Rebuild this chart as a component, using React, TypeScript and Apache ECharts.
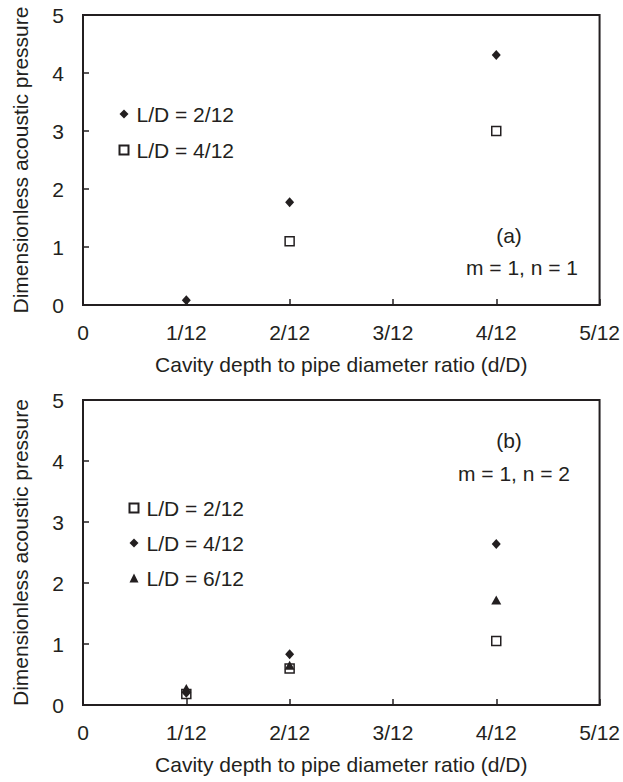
import React, { useEffect, useRef } from "react";
import * as echarts from "echarts";

// x positions in units of 1/12
const xPos = [1, 2, 4];
const xPosA4 = [2, 4];
const xTickLabels = ["0", "1/12", "2/12", "3/12", "4/12", "5/12"];

// Panel (a): m = 1, n = 1
const aLD2 = [0.08, 1.77, 4.31];
const aLD4 = [1.1, 3.0];

// Panel (b): m = 1, n = 2
const bLD2 = [0.18, 0.6, 1.05];
const bLD4 = [0.2, 0.83, 2.64];
const bLD6 = [0.27, 0.65, 1.72];

const FONT = "'Liberation Sans', Arial, sans-serif";
const INK = "#231f20";
const FS = 21;

const pairs = (xs: number[], ys: number[]) => xs.map((x, i) => [x, ys[i]]);

export default function App() {
  const ref = useRef<HTMLDivElement>(null);
  useEffect(() => {
    document.body.style.margin = "0";
    const chart = echarts.init(ref.current!, null, { renderer: "svg" });
    const xAxisBase = (gridIndex: number) => ({
      type: "value",
      gridIndex,
      min: 0,
      max: 5,
      interval: 1,
      name: "Cavity depth to pipe diameter ratio (d/D)",
      nameLocation: "middle",
      nameGap: 49,
      nameTextStyle: { fontFamily: FONT, fontSize: FS, color: INK },
      axisLine: { show: true, lineStyle: { color: INK, width: 2 } },
      axisTick: { show: true, inside: true, length: 6, lineStyle: { color: INK, width: 1.5 } },
      axisLabel: {
        margin: 17,
        fontFamily: FONT,
        fontSize: FS,
        color: INK,
        formatter: (v: number) => xTickLabels[Math.round(v)],
      },
      splitLine: { show: false },
    });
    const yAxisBase = (gridIndex: number) => ({
      type: "value",
      gridIndex,
      min: 0,
      max: 5,
      interval: 1,
      name: "Dimensionless acoustic pressure",
      nameLocation: "middle",
      nameGap: 52,
      nameTextStyle: { fontFamily: FONT, fontSize: FS, color: INK },
      axisLine: { show: true, lineStyle: { color: INK, width: 2 } },
      axisTick: { show: true, inside: true, length: 6, lineStyle: { color: INK, width: 1.5 } },
      axisLabel: { margin: 19, fontFamily: FONT, fontSize: FS, color: INK },
      splitLine: { show: false },
    });
    const diamond = { color: INK, opacity: 1 };
    const hollow = { color: "#fff", borderColor: INK, borderWidth: 1.5, opacity: 1 };
    const tri = { color: INK, opacity: 1 };
    const fmt = (n: string) => n.slice(2);
    const txt = (text: string, x: number, y: number) => ({
      type: "text",
      x,
      y,
      style: { text, font: `${FS}px ${FONT}`, fill: INK, align: "center", verticalAlign: "middle" },
    });
    const legendText = { fontFamily: FONT, fontSize: FS, color: INK, padding: [0, 0, 0, 3] };
    chart.setOption({
      animation: false,
      backgroundColor: "#fff",
      grid: [
        { left: 83, top: 15, width: 519, height: 290, show: true, borderColor: INK, borderWidth: 2 },
        { left: 83, top: 400, width: 520, height: 305, show: true, borderColor: INK, borderWidth: 2 },
      ],
      xAxis: [xAxisBase(0), xAxisBase(1)],
      yAxis: [yAxisBase(0), yAxisBase(1)],
      legend: [
        {
          orient: "vertical",
          left: 113.5,
          top: 98.5,
          itemWidth: 9,
          itemHeight: 9,
          itemGap: 15,
          textStyle: legendText,
          formatter: fmt,
          data: ["a:L/D = 2/12", "a:L/D = 4/12"],
        },
        {
          orient: "vertical",
          left: 123.5,
          top: 492.5,
          itemWidth: 9,
          itemHeight: 9,
          itemGap: 14,
          textStyle: legendText,
          formatter: fmt,
          data: ["b:L/D = 2/12", "b:L/D = 4/12", "b:L/D = 6/12"],
        },
      ],
      graphic: [
        txt("(a)", 509, 235),
        txt("m = 1, n = 1", 522, 267),
        txt("(b)", 509, 440),
        txt("m = 1, n = 2", 514, 473),
      ],
      series: [
        {
          name: "a:L/D = 4/12",
          type: "scatter",
          xAxisIndex: 0,
          yAxisIndex: 0,
          symbol: "rect",
          symbolSize: 9,
          itemStyle: hollow,
          data: pairs(xPosA4, aLD4),
        },
        {
          name: "a:L/D = 2/12",
          type: "scatter",
          xAxisIndex: 0,
          yAxisIndex: 0,
          symbol: "diamond",
          symbolSize: [9, 10],
          itemStyle: diamond,
          data: pairs(xPos, aLD2),
        },
        {
          name: "b:L/D = 2/12",
          type: "scatter",
          xAxisIndex: 1,
          yAxisIndex: 1,
          symbol: "rect",
          symbolSize: 9,
          itemStyle: hollow,
          data: pairs(xPos, bLD2),
        },
        {
          name: "b:L/D = 6/12",
          type: "scatter",
          xAxisIndex: 1,
          yAxisIndex: 1,
          symbol: "triangle",
          symbolSize: [10, 9],
          itemStyle: tri,
          data: pairs(xPos, bLD6),
        },
        {
          name: "b:L/D = 4/12",
          type: "scatter",
          xAxisIndex: 1,
          yAxisIndex: 1,
          symbol: "diamond",
          symbolSize: [9, 10],
          itemStyle: diamond,
          data: pairs(xPos, bLD4),
        },
      ],
    });
    return () => chart.dispose();
  }, []);
  return (
    <div
      ref={ref}
      style={{ position: "absolute", left: 0, top: 0, width: 623, height: 782, background: "#fff" }}
    />
  );
}
